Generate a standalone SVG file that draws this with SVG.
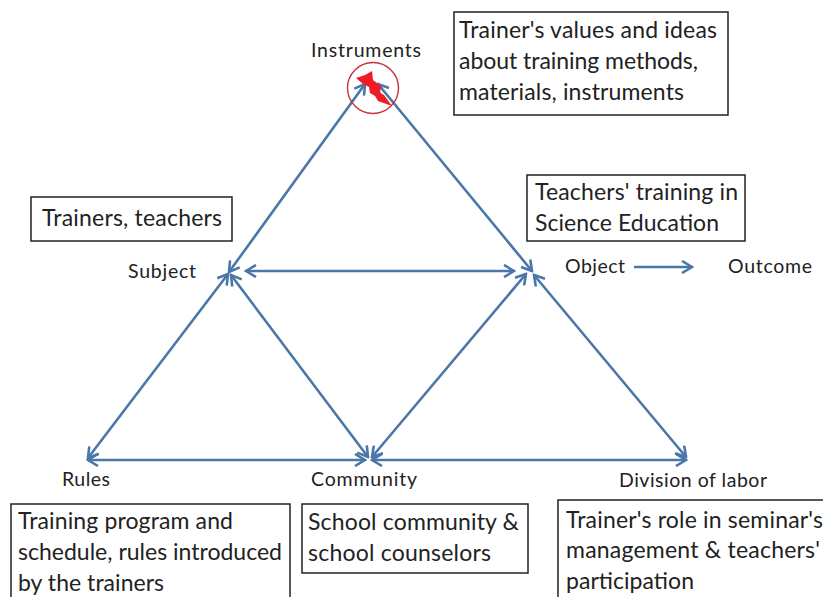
<svg xmlns="http://www.w3.org/2000/svg" width="823" height="597" viewBox="0 0 823 597">
<style>
text{font-family:"Lato","Liberation Sans",sans-serif;fill:#222}
.b{font-size:23px}
.l{font-size:19.5px}
.box{fill:#fff;stroke:#222;stroke-width:1.5}
.c{fill:none;stroke:#4a77a8;stroke-width:2.6;marker-start:url(#a);marker-end:url(#a)}
.s{fill:none;stroke:#4a77a8;stroke-width:2.6;marker-end:url(#a)}
</style>
<defs>
<marker id="a" viewBox="-12 -7 14 14" refX="0" refY="0" markerUnits="userSpaceOnUse" markerWidth="14" markerHeight="14" orient="auto-start-reverse">
<path d="M-10,-6 L0,0 L-10,6" fill="none" stroke="#4a77a8" stroke-width="2.6"/>
</marker>
</defs>
<rect width="823" height="597" fill="#fff"/>
<g id="connectors">
<line class="c" x1="229" y1="272" x2="365" y2="84"/>
<line class="c" x1="378" y1="84" x2="532" y2="271"/>
<line class="c" x1="246" y1="271" x2="514" y2="271"/>
<line class="c" x1="88" y1="458" x2="228" y2="274"/>
<line class="c" x1="231" y1="275" x2="368" y2="457"/>
<line class="c" x1="372" y1="457" x2="526" y2="274"/>
<line class="c" x1="534" y1="275" x2="686" y2="457"/>
<line class="c" x1="88" y1="460" x2="365" y2="460"/>
<line class="c" x1="372" y1="460" x2="686" y2="460"/>
<line class="s" x1="634" y1="267" x2="692" y2="267"/>
</g>
<g id="instruments">
<text class="l" x="311" y="57" textLength="110">Instruments</text>
<circle cx="373" cy="88" r="25.5" fill="none" stroke="#c8333a" stroke-width="1.4"/>
<path d="M356,78 L365,75 L372,71 L373,80 L382,87 L379,92 L384,95 L392,106 L378,101 L375,96 L370,93 L369,87 L363,84 Z" fill="#ee1c25"/>
</g>
<g id="subject"><text class="l" x="128" y="278" textLength="68">Subject</text></g>
<g id="object"><text class="l" x="565" y="273" textLength="60">Object</text></g>
<g id="outcome"><text class="l" x="728" y="273" textLength="84">Outcome</text></g>
<g id="rules"><text class="l" x="62" y="486" textLength="48">Rules</text></g>
<g id="community"><text class="l" x="311" y="486" textLength="106">Community</text></g>
<g id="division"><text class="l" x="619" y="487" textLength="148">Division of labor</text></g>
<g id="box-instruments">
<rect class="box" x="454" y="12" width="274" height="103"/>
<text class="b" x="459" y="38" textLength="258">Trainer's values and ideas</text>
<text class="b" x="459" y="69" textLength="239">about training methods,</text>
<text class="b" x="459" y="100" textLength="225">materials, instruments</text>
</g>
<g id="box-subject">
<rect class="box" x="31" y="197" width="201" height="44"/>
<text class="b" x="42" y="226" textLength="180">Trainers, teachers</text>
</g>
<g id="box-object">
<rect class="box" x="527" y="175" width="218" height="66"/>
<text class="b" x="535" y="200" textLength="203">Teachers' training in</text>
<text class="b" x="535" y="231" textLength="184">Science Education</text>
</g>
<g id="box-rules">
<rect class="box" x="11" y="504" width="279" height="100"/>
<text class="b" x="18" y="529" textLength="215">Training program and</text>
<text class="b" x="18" y="560" textLength="264">schedule, rules introduced</text>
<text class="b" x="18" y="591" textLength="146">by the trainers</text>
</g>
<g id="box-community">
<rect class="box" x="302" y="504" width="226" height="69"/>
<text class="b" x="308" y="530" textLength="211">School community &amp;</text>
<text class="b" x="308" y="561" textLength="183">school counselors</text>
</g>
<g id="box-division">
<rect class="box" x="558" y="500" width="275" height="105"/>
<text class="b" x="566" y="528" textLength="257">Trainer's role in seminar's</text>
<text class="b" x="566" y="558" textLength="254">management &amp; teachers'</text>
<text class="b" x="566" y="589" textLength="128">participation</text>
</g>
</svg>
